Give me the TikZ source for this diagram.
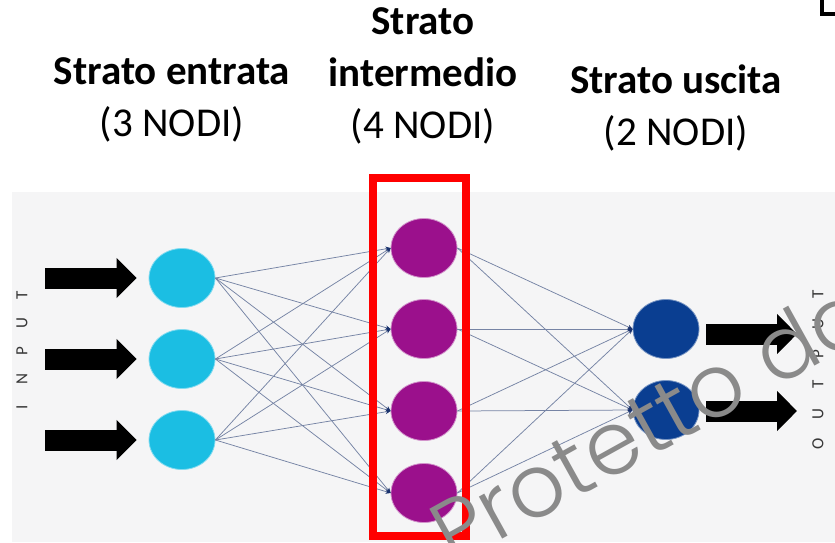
\documentclass[tikz,border=0pt]{standalone}
\usepackage{fontspec}
\setmainfont{Carlito}
\IfFontExistsTF{Poppins Light}{\newfontfamily\wmfont{Poppins Light}}{\newfontfamily\wmfont{Poppins}}
\usetikzlibrary{positioning}
\usetikzlibrary{arrows.meta}
\usetikzlibrary{shapes.geometric}
\definecolor{panelgray}{RGB}{245,245,246}
\definecolor{inputcyan}{RGB}{27,190,227}
\definecolor{hiddenpurple}{RGB}{155,16,140}
\definecolor{outputblue}{RGB}{10,62,145}
\definecolor{linkblue}{RGB}{118,132,165}
\definecolor{tipnavy}{RGB}{25,50,110}
\definecolor{markgray}{RGB}{138,138,138}

\begin{document}
\begin{tikzpicture}[x=1pt, y=-1pt,
    every node/.style={align=center, inner sep=0pt},
    head/.style={font=\fontsize{41}{52}\selectfont},
    neuron/.style={ellipse, minimum width=66pt, minimum height=59pt, line width=0.8pt},
    link/.style={draw=linkblue, line width=0.75pt, -{Stealth[length=5pt, width=4.5pt, color=tipnavy]}},
    bigarrow/.style={line width=21pt, -{Triangle[length=20pt, width=39pt]}},
    letter/.style={rotate=90, text=black!78, font=\fontsize{17}{17}\selectfont}]

        \useasboundingbox (0,0) rectangle (835,542);
        \fill[white] (0,0) rectangle (835,542);

        % Panel
        \fill[panelgray] (12,192) rectangle (835,542);
        \draw[line width=4pt] (822,0) -- (822,14) -- (835,14);

        % Headings
        \node[head] (hin) at (172,100) {\textbf{Strato entrata}\\(3 NODI)};
        \node[head] (hhid) at (423,76) {\textbf{Strato}\\\textbf{intermedio}\\(4 NODI)};
        \node[head] (hout) at (676,108) {\textbf{Strato uscita}\\(2 NODI)};

        % Layers
        \node[neuron, fill=inputcyan, draw=inputcyan!55!white] (in1) at (182,278) {};
        \node[neuron, fill=inputcyan, draw=inputcyan!55!white] (in2) at (182,359) {};
        \node[neuron, fill=inputcyan, draw=inputcyan!55!white] (in3) at (182,440) {};

        \node[neuron, fill=hiddenpurple, draw=hiddenpurple!45!white] (hid1) at (424,248) {};
        \node[neuron, fill=hiddenpurple, draw=hiddenpurple!45!white] (hid2) at (424,329) {};
        \node[neuron, fill=hiddenpurple, draw=hiddenpurple!45!white] (hid3) at (424,411) {};
        \node[neuron, fill=hiddenpurple, draw=hiddenpurple!45!white] (hid4) at (424,493) {};

        \node[neuron, fill=outputblue, draw=outputblue!55!white] (out1) at (666,329) {};
        \node[neuron, fill=outputblue, draw=outputblue!55!white] (out2) at (666,410) {};

        % Links
        \foreach \i in {1,2,3}
            \foreach \j in {1,...,4}
                \draw[link] (in\i.east) -- (hid\j.west);
        \foreach \j in {1,...,4}
            \foreach \k in {1,2}
                \draw[link] (hid\j.east) -- (out\k.west);

        % Input and output arrows
        \foreach \i in {1,2,3} {
            \coordinate (ia\i) at (45,{278+81*(\i-1)});
            \draw[bigarrow, shorten >=12pt] (ia\i) -- (in\i.west);
        }
        \coordinate (oa1) at (797,334);
        \coordinate (oa2) at (797,411);
        \draw[bigarrow, shorten <=7pt] ([yshift=-5pt]out1.east) -- (oa1);
        \draw[bigarrow, shorten <=7pt] ([yshift=-1pt]out2.east) -- (oa2);

        \foreach \ch [count=\n] in {I,N,P,U,T}
            \node[letter] (inl\n) at (22,{407-28*(\n-1)}) {\ch};
        \foreach \ch [count=\n] in {O,U,T,P,U,T}
            \node[letter] (outl\n) at (818,{444-30*(\n-1)}) {\ch};

        % Red frame
        \draw[red, line width=8pt] (373,177.5) rectangle (466,536);

        % Watermark
        \begin{scope}
            \clip (0,0) rectangle (835,542);
            \node[rotate=29, anchor=base west, text=markgray, font=\wmfont\fontsize{88}{88}\selectfont] (wm) at (453,567) {Protetto da};
        \end{scope}

    \end{tikzpicture}
\end{document}
